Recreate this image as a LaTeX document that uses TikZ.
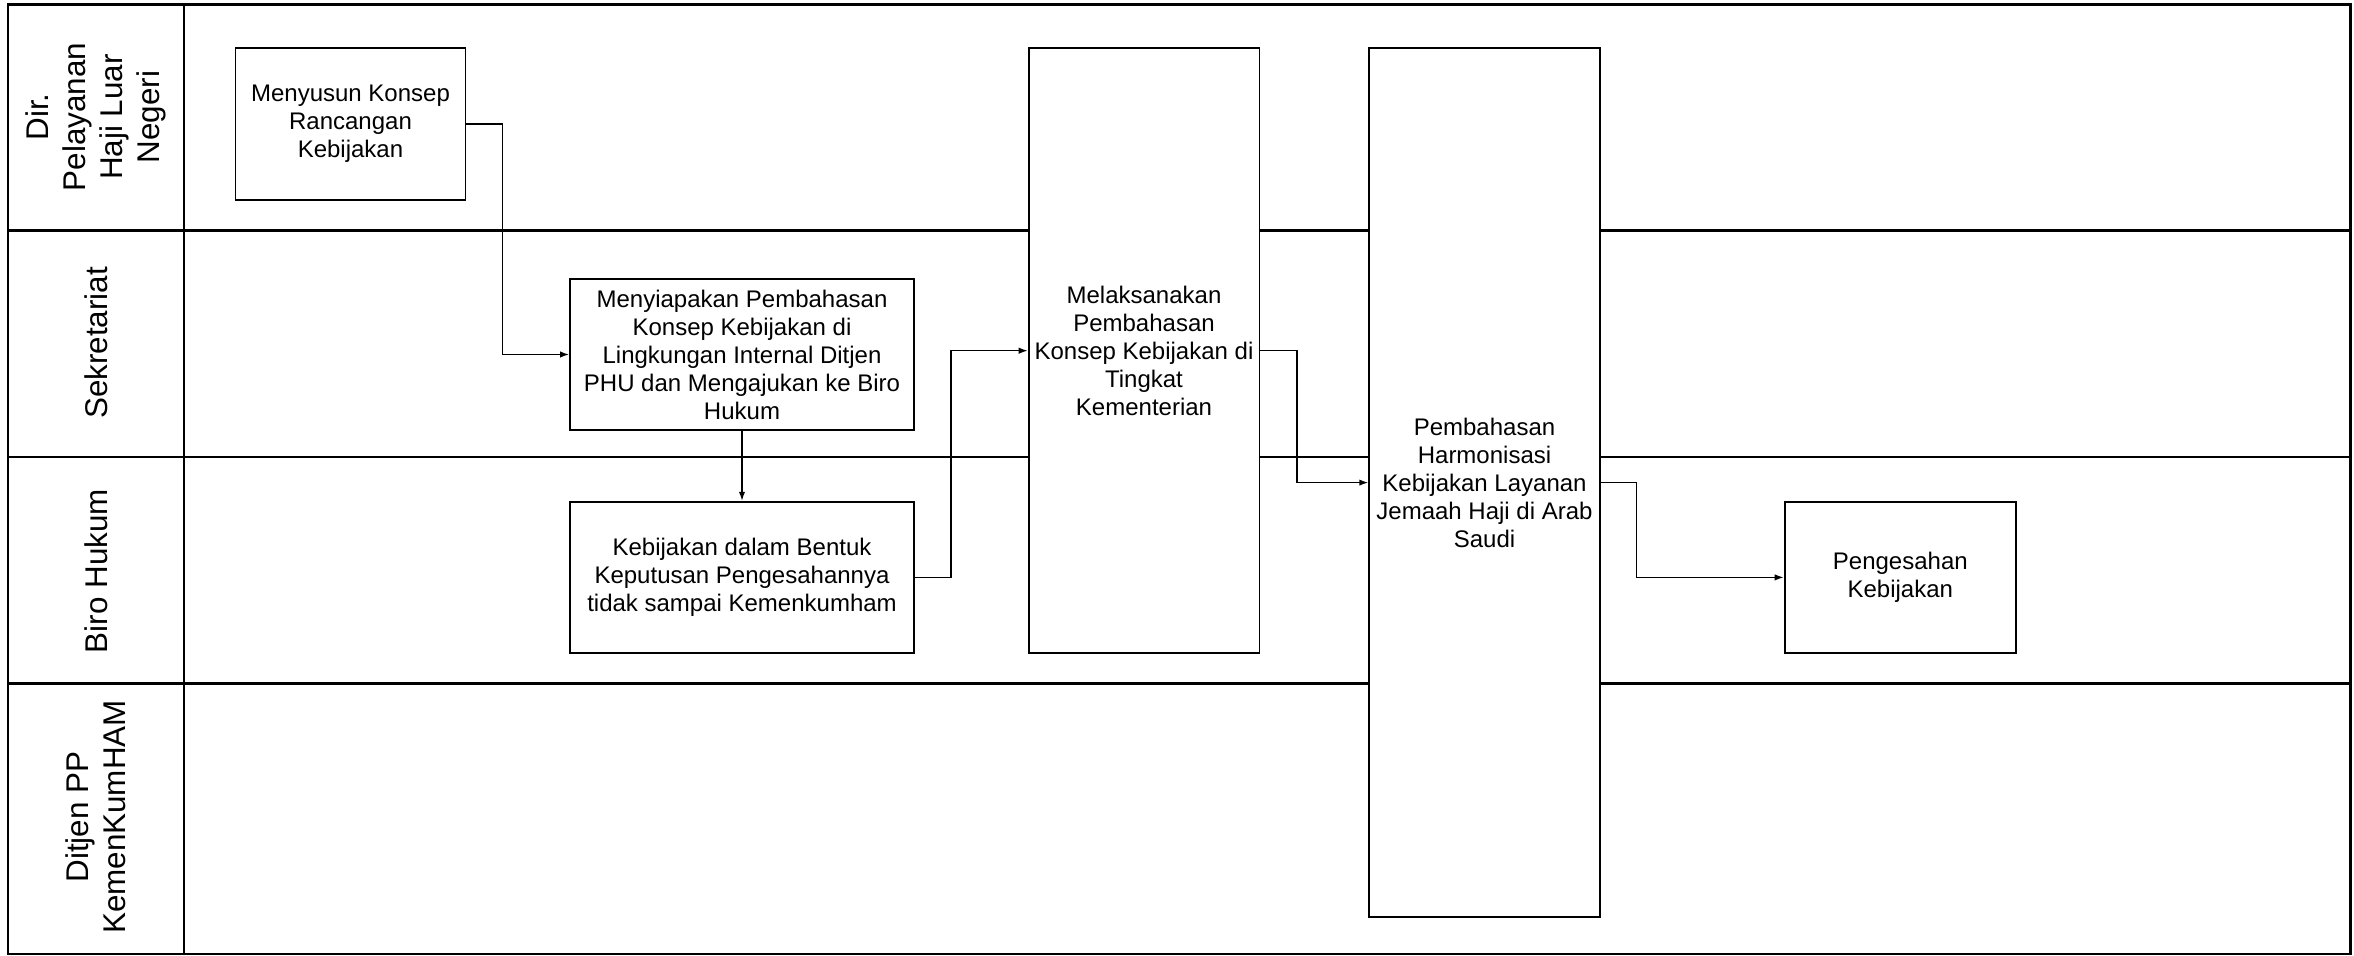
\documentclass[tikz,border=0pt]{standalone}
\usepackage{fontspec}
\setmainfont{Liberation Sans}
\usetikzlibrary{arrows.meta}
\begin{document}
\begin{tikzpicture}[x=0.5pt,y=-0.5pt,
  lane/.style={line width=1.25pt},
  box/.style={draw, line width=0.9pt, fill=white, align=center, font=\fontsize{12}{14}\selectfont, inner sep=0pt},
  lbl/.style={rotate=90, align=center, font=\fontsize{15.7}{18.5}\selectfont},
  arr/.style={line width=0.7pt, -{Latex[length=4.5pt,width=3.2pt]}},
]
\useasboundingbox (0,0) rectangle (2354,956);
% swimlanes
\draw[lane] (8,4.5) rectangle (2350.5,954);
\draw[lane] (8,230.5) -- (2350.5,230.5);
\draw[lane] (8,457) -- (2350.5,457);
\draw[lane] (8,683.5) -- (2350.5,683.5);
\draw[line width=1pt] (183.7,4.5) -- (183.7,954);
% lane labels
\node[lbl] (l1) at (96,117) {Dir.\\Pelayanan\\Haji Luar\\Negeri};
\node[lbl] (l2) at (96,343) {Sekretariat};
\node[lbl] (l3) at (96,571) {Biro Hukum};
\node[lbl] (l4) at (96,817) {Ditjen PP\\KemenKumHAM};
% process boxes
\node[box, minimum width=115pt, minimum height=76pt] (m1) at (350.5,124) {Menyusun Konsep\\Rancangan\\Kebijakan};
\node[box, minimum width=172pt, minimum height=75.5pt] (m2) at (742,354.5) {Menyiapakan Pembahasan\\Konsep Kebijakan di\\Lingkungan Internal Ditjen\\PHU dan Mengajukan ke Biro\\Hukum};
\node[box, minimum width=172pt, minimum height=75.8pt] (m3) at (742,577.5) {Kebijakan dalam Bentuk\\Keputusan Pengesahannya\\tidak sampai Kemenkumham};
\node[box, minimum width=115.4pt, minimum height=302.6pt] (m4) at (1144,350.7) {Melaksanakan\\Pembahasan\\Konsep Kebijakan di\\Tingkat\\Kementerian};
\node[box, minimum width=115.3pt, minimum height=434.4pt] (m5) at (1484.5,482.6) {Pembahasan\\Harmonisasi\\Kebijakan Layanan\\Jemaah Haji di Arab\\Saudi};
\node[box, minimum width=115.7pt, minimum height=75.6pt] (m6) at (1900.3,577.4) {Pengesahan\\Kebijakan};
% connectors
\draw[arr] (m1.east) -- ++(36,0) |- (m2.west);
\draw[arr] (m2.south) -- (m3.north);
\draw[arr] (m3.east) -- ++(36,0) |- (m4.west);
\draw[arr] (m4.east) -- ++(36.6,0) |- (m5.west);
\draw[arr] (m5.east) -- ++(35.6,0) |- (m6.west);
\end{tikzpicture}
\end{document}
